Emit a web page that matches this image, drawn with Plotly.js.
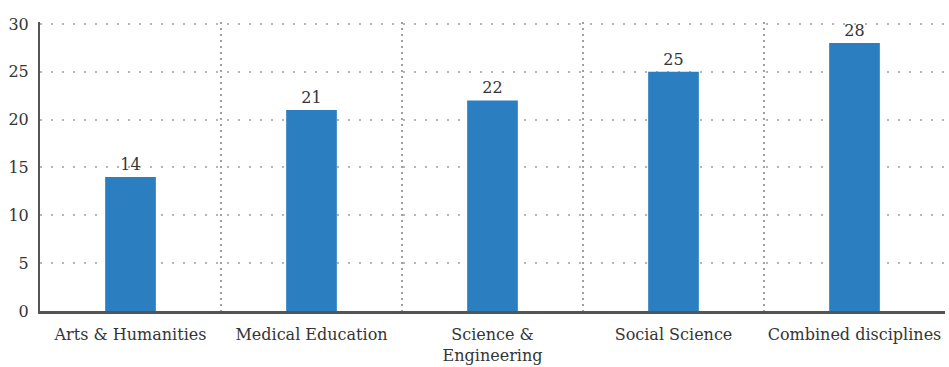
<!DOCTYPE html>
<html>
<head>
<meta charset="utf-8">
<script src="https://cdn.plot.ly/plotly-3.0.1.min.js"></script>
<style>
  html, body { margin: 0; padding: 0; background: #ffffff; }
  #chart { width: 949px; height: 367px; }
</style>
</head>
<body>
<div id="chart"></div>
<script>
// Disciplines and their counts
const categories = [
  "Arts & Humanities",
  "Medical Education",
  "Science &<br>Engineering",
  "Social Science",
  "Combined disciplines"
];
const counts = [14, 21, 22, 25, 28];
const yTicks = [0, 5, 10, 15, 20, 25, 30];

const textColor = "#353535";
const serif = "'DejaVu Serif', 'Liberation Serif', serif";

const trace = {
  type: "bar",
  x: categories,
  y: counts,
  text: counts.map(String),
  textposition: "outside",
  cliponaxis: false,
  textfont: { family: serif, size: 16, color: textColor },
  marker: { color: "#2b7fc1", line: { width: 0 } },
  width: 0.28,
  hoverinfo: "x+y"
};

const layout = {
  width: 949,
  height: 367,
  margin: { l: 40, r: 4, t: 22, b: 56 },
  paper_bgcolor: "#ffffff",
  plot_bgcolor: "#ffffff",
  showlegend: false,
  font: { family: serif, size: 16, color: textColor },
  xaxis: {
    type: "category",
    tickson: "boundaries",
    tickangle: 0,
    showgrid: true,
    gridcolor: "#a0a0a0",
    griddash: "2px,4px",
    gridwidth: 1.5,
    ticks: "",
    ticklabelstandoff: 7,
    showline: true,
    linecolor: "#555555",
    linewidth: 2.5,
    tickfont: { family: serif, size: 16, color: textColor },
    fixedrange: true
  },
  yaxis: {
    // a little headroom past 30 so the top grid row is kept
    range: [0, 30.2],
    tickvals: yTicks,
    ticktext: yTicks.map(String),
    showgrid: true,
    gridcolor: "#b5b5b5",
    griddash: "2px,9px",
    gridwidth: 2,
    zeroline: false,
    showline: true,
    linecolor: "#555555",
    linewidth: 2,
    ticks: "",
    ticklabelstandoff: 6,
    tickfont: { family: serif, size: 16, color: textColor },
    fixedrange: true
  }
};

Plotly.newPlot("chart", [trace], layout, { displayModeBar: false, staticPlot: true });
</script>
</body>
</html>
